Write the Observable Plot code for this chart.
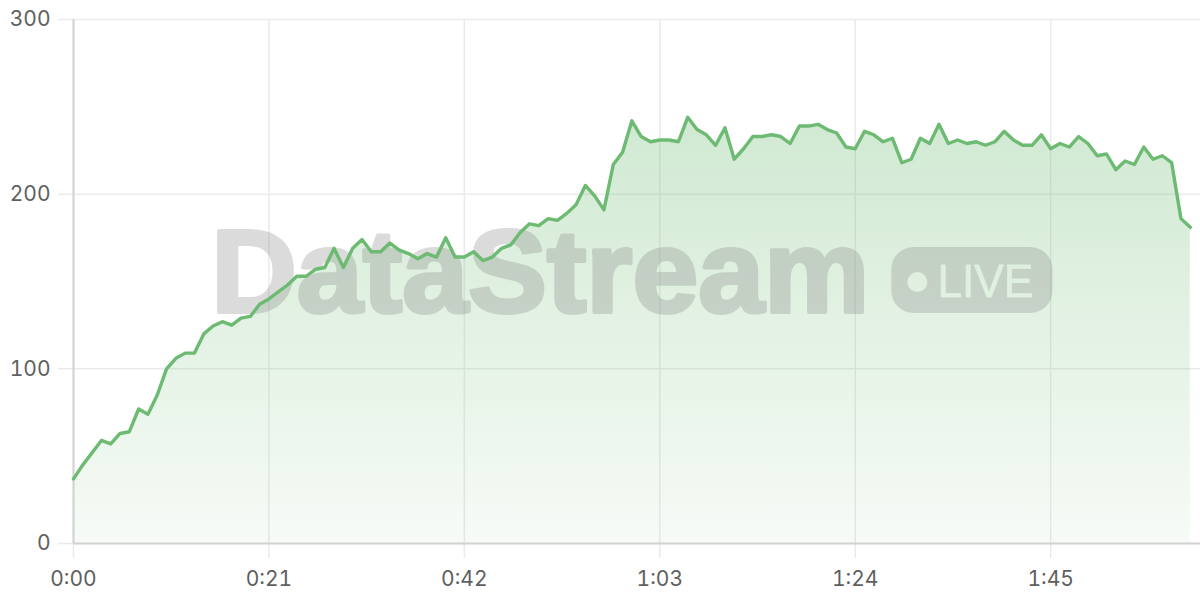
<!DOCTYPE html>
<html>
<head>
<meta charset="utf-8">
<script src="https://cdn.jsdelivr.net/npm/d3@7"></script>
<script src="https://cdn.jsdelivr.net/npm/@observablehq/plot@0.6"></script>
<style>
  html, body { margin: 0; padding: 0; background: #fff; }
  #chart svg { display: block; }
</style>
</head>
<body>
<div id="chart"></div>
<script>
// Values sampled once per second (index = elapsed seconds)
const values = [
  37, 45, 52, 59, 57, 63, 64, 77, 74, 85,
  100, 106, 109, 109, 120, 124.5, 127, 125, 129, 130,
  137, 140, 144, 148, 153, 153, 157, 158, 169, 158,
  169, 174, 167, 167, 172, 168, 166, 163, 166, 164,
  175, 164, 164, 167, 162, 164, 169, 171, 178, 183,
  182, 186, 185, 189, 194, 205, 199, 191, 217, 224,
  242, 233, 230, 231, 231, 230, 244, 237, 234, 228,
  238, 220, 226, 233, 233, 234, 233, 229, 239, 239,
  240, 237, 235, 227, 226, 236, 234, 230, 232, 218,
  220, 232, 229, 240, 229, 231, 229, 230, 228, 230,
  236, 231, 228, 228, 234, 226, 229, 227, 233, 229,
  222, 223, 214, 219, 217, 227, 220, 222, 218, 186,
  181
];
const xTicks = [0, 21, 42, 63, 84, 105];
const yTicks = [0, 100, 200, 300];
const watermarkText = "DataStream";
const badgeText = "LIVE";

const data = values.map((v, i) => ({t: i, v}));
const fmt = s => `${Math.floor(s / 60)}:${String(s % 60).padStart(2, "0")}`;
const green = "#6dba72";

const gradientDefs = () => {
  const defs = d3.create("svg:defs");
  const lg = defs.append("linearGradient").attr("id", "areaGrad").attr("gradientTransform", "rotate(90)");
  lg.append("stop").attr("offset", "0%").attr("stop-color", green).attr("stop-opacity", 0.32);
  lg.append("stop").attr("offset", "100%").attr("stop-color", green).attr("stop-opacity", 0.06);
  return defs.node();
};

const watermark = (index, scales, vals, dims) => {
  const cx = (scales.x(0) + scales.x(values.length - 1)) / 2;
  const cy = (scales.y(yTicks[0]) + scales.y(yTicks[yTicks.length - 1])) / 2;
  const g = d3.create("svg:g").attr("text-anchor", "start");
  const defs = g.append("defs");
  const mask = defs.append("mask").attr("id", "pillmask")
    .attr("maskUnits", "userSpaceOnUse")
    .attr("x", 0).attr("y", 0).attr("width", dims.width).attr("height", dims.height);
  mask.append("rect").attr("x", 0).attr("y", 0).attr("width", dims.width).attr("height", dims.height).attr("fill", "white");
  mask.append("circle").attr("cx", cx + 286).attr("cy", cy + 1).attr("r", 10).attr("fill", "black");
  mask.append("text").attr("x", cx + 306).attr("y", cy + 16)
    .attr("text-anchor", "start")
    .attr("font-size", 46).attr("font-family", "'Liberation Sans', Arial, sans-serif")
    .attr("textLength", 96).attr("lengthAdjust", "spacingAndGlyphs")
    .attr("fill", "black").attr("stroke", "black").attr("stroke-width", 0.8)
    .text(badgeText);
  const wg = g.append("g").attr("opacity", 0.28);
  wg.append("text").attr("x", cx - 420).attr("y", cy + 31)
    .attr("text-anchor", "start")
    .attr("font-size", 116).attr("font-weight", "bold")
    .attr("font-family", "'Liberation Sans', Arial, sans-serif")
    .attr("textLength", 658).attr("lengthAdjust", "spacingAndGlyphs")
    .attr("fill", "#808080").attr("stroke", "#808080").attr("stroke-width", 4).attr("stroke-linejoin", "round")
    .text(watermarkText);
  g.append("rect").attr("x", cx + 260).attr("y", cy - 34).attr("width", 161).attr("height", 66).attr("rx", 22)
    .attr("fill", "#808080").attr("fill-opacity", 0.28).attr("mask", "url(#pillmask)");
  return g.node();
};

const chart = Plot.plot({
  width: 1200,
  height: 600,
  marginTop: 19,
  marginBottom: 57,
  marginLeft: 73,
  marginRight: 0,
  x: {domain: [0, 121.1], ticks: xTicks, tickFormat: fmt, tickSize: 0, tickPadding: 28, label: null},
  y: {domain: [0, 300], ticks: yTicks, tickSize: 0, tickPadding: 23, label: null},
  style: {fontSize: "21px", fontFamily: "Inter, 'Noto Sans', sans-serif", color: "#5f5f5f", background: "#fff"},
  marks: [
    gradientDefs,
    Plot.ruleY(yTicks, {stroke: "#ebebeb", strokeWidth: 1.5, insetLeft: -15}),
    Plot.ruleX(xTicks, {stroke: "#ebebeb", strokeWidth: 1.5, insetBottom: -15}),
    Plot.areaY(data, {x: "t", y: "v", fill: "url(#areaGrad)"}),
    watermark,
    Plot.ruleX([0], {stroke: "#d2d2d2", strokeWidth: 2}),
    Plot.ruleY([0], {stroke: "#d2d2d2", strokeWidth: 2}),
    Plot.lineY(data, {x: "t", y: "v", stroke: green, strokeWidth: 3.4, strokeLinejoin: "round"})
  ]
});
document.getElementById("chart").appendChild(chart);
</script>
</body>
</html>
